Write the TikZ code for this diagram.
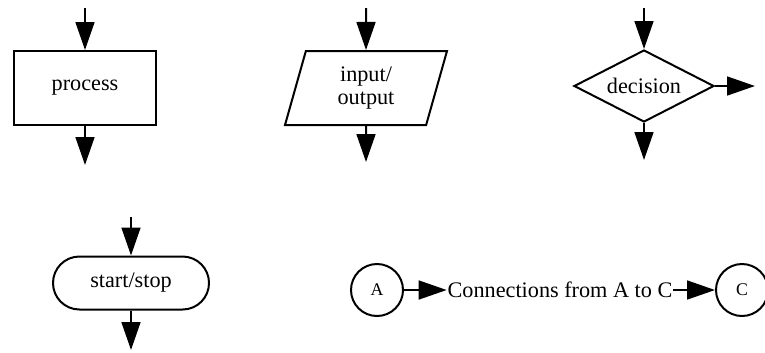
\documentclass[tikz,border=0pt]{standalone}
\usepackage{fontspec}
\setmainfont{Liberation Serif}
\usetikzlibrary{arrows.meta,shapes.geometric}

\begin{document}
\begin{tikzpicture}[x=0.45pt,y=-0.45pt,line width=0.9pt,
    flow/.style={-{Triangle[length=12.6pt,width=8.5pt]}},
    procbox/.style={draw,rectangle,minimum width=63.9pt,minimum height=33.3pt,inner sep=0pt},
    iobox/.style={draw,trapezium,trapezium left angle=64,trapezium right angle=116,
      trapezium stretches body,minimum width=72.9pt,minimum height=33.3pt,inner sep=0pt,
      align=center,font=\fontsize{10pt}{10.5pt}\selectfont},
    decbox/.style={draw,diamond,aspect=2,minimum width=63pt,minimum height=32.4pt,inner sep=0pt},
    termbox/.style={draw,rectangle,rounded corners=11.9pt,minimum width=70.2pt,minimum height=23.85pt,inner sep=0pt},
    connbox/.style={draw,circle,minimum size=23.4pt,inner sep=0pt,font=\footnotesize}]
  \useasboundingbox (0,0) rectangle (765,352);
  % process
  \node[procbox] (proc) at (85,88) {process};
  \coordinate (proc in) at (85,8);
  \coordinate (proc out) at (85,165);
  \draw[flow] (proc in) -- (proc.north);
  \draw[flow] (proc.south) -- (proc out);
  % input/output
  \node[iobox] (io) at (366,88) {input/\\output};
  \coordinate (io in) at (366,8);
  \coordinate (io out) at (366,162);
  \draw[flow] (io in) -- (io.north);
  \draw[flow] (io.south) -- (io out);
  % decision
  \node[decbox] (dec) at (644,86) {decision};
  \coordinate (dec in) at (644,8);
  \coordinate (dec out) at (644,160);
  \coordinate (dec side) at (755,86);
  \draw[flow] (dec in) -- (dec.north);
  \draw[flow] (dec.south) -- (dec out);
  \draw[flow] (dec.east) -- (dec side);
  % start/stop
  \node[termbox] (term) at (131,283) {start/stop};
  \coordinate (term in) at (131,217);
  \coordinate (term out) at (131,350);
  \draw[flow] (term in) -- (term.north);
  \draw[flow] (term.south) -- (term out);
  % connectors
  \node[connbox] (conA) at (377,290) {A};
  \node[inner sep=0pt] (conn) at (560,290) {Connections from A to C};
  \node[connbox] (conC) at (742,290) {C};
  \draw[flow] (conA.east) -- (conn.west);
  \draw[flow] (conn.east) -- (conC.west);
\end{tikzpicture}
\end{document}
